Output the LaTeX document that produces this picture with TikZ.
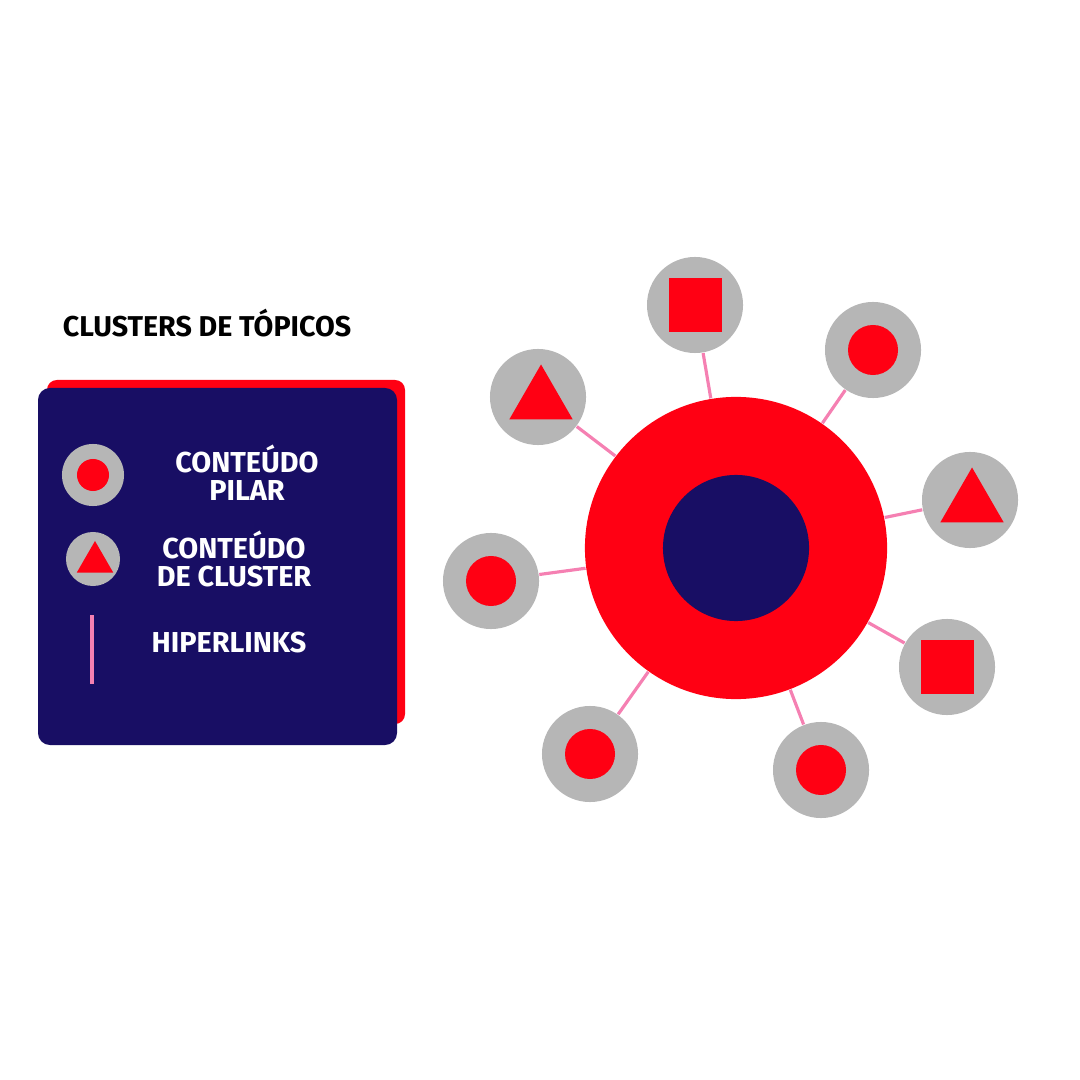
\documentclass[tikz,border=0pt]{standalone}
\usepackage{fontspec}
\setmainfont{Fira Sans}
\usepackage{tikz}
\usetikzlibrary{shapes.geometric,positioning}
\definecolor{navy}{RGB}{24,14,100}
\definecolor{hotred}{RGB}{255,0,19}
\definecolor{ringgray}{RGB}{182,182,182}
\definecolor{linkpink}{RGB}{245,128,178}
\tikzset{
  sat/.style={circle,fill=ringgray,inner sep=0pt,minimum size=0.96cm},
  dot/.style={circle,fill=hotred,inner sep=0pt,minimum size=0.50cm},
  sq/.style={rectangle,fill=hotred,inner sep=0pt,minimum size=0.53cm},
  tri/.style={regular polygon,regular polygon sides=3,fill=hotred,inner sep=0pt,minimum size=0.73cm},
  hlink/.style={line width=0.9pt,draw=linkpink}
}

\begin{document}
\begin{tikzpicture}[
  x=0.01cm,y=-0.01cm,
  title/.style={font=\fontsize{8.15}{10}\selectfont\bfseries,text=black},
  legtext/.style={font=\fontsize{8.2}{8}\selectfont\bfseries,text=white,align=center}
]
  \useasboundingbox (0,0) rectangle (1080,1080);

  % legend
  \node[title] (title) at (207,323) {CLUSTERS DE TÓPICOS};
  \fill[hotred,rounded corners=2.8pt] (47,380) rectangle (405,724);
  \fill[navy,rounded corners=3.4pt] (38,388) rectangle (397,745);

  \node[sat,minimum size=0.62cm] (lpilar) at (93,475) {};
  \node[dot,minimum size=0.32cm] at (lpilar) {};
  \node[legtext] (tpilar) at (247,473) {CONTEÚDO\\PILAR};

  \node[sat,minimum size=0.54cm] (lclus) at (93,559) {};
  \node[tri,minimum size=0.42cm] at (95,562) {};
  \node[legtext] (tclus) at (234,559) {CONTEÚDO\\DE CLUSTER};

  \coordinate (la) at (92,615);
  \coordinate (lb) at (92,684);
  \draw[hlink,line width=1.1pt] (la) -- (lb);
  \node[legtext] (tlink) at (229,643) {HIPERLINKS};

  % cluster
  \node[circle,fill=hotred,inner sep=0pt,minimum size=3.02cm] (hub) at (736,548) {};
  \node[circle,fill=navy,inner sep=0pt,minimum size=1.46cm] (core) at (hub) {};

  \node[sat] (s1) at (695,305) {};
  \node[sat] (s2) at (873,350) {};
  \node[sat] (s3) at (970,500) {};
  \node[sat] (s4) at (947,667) {};
  \node[sat] (s5) at (821,770) {};
  \node[sat] (s6) at (590,754) {};
  \node[sat] (s7) at (491,581) {};
  \node[sat] (s8) at (538,397) {};

  \foreach \s in {s1,s2,s3,s4,s5,s6,s7,s8}{
    \draw[hlink] (hub) -- (\s);
  }

  \node[sq] at (s1) {};
  \node[dot] at (s2) {};
  \node[tri] at (972,504) {};
  \node[sq] at (s4) {};
  \node[dot] at (s5) {};
  \node[dot] at (s6) {};
  \node[dot] at (s7) {};
  \node[tri] at (541,401) {};
\end{tikzpicture}
\end{document}
